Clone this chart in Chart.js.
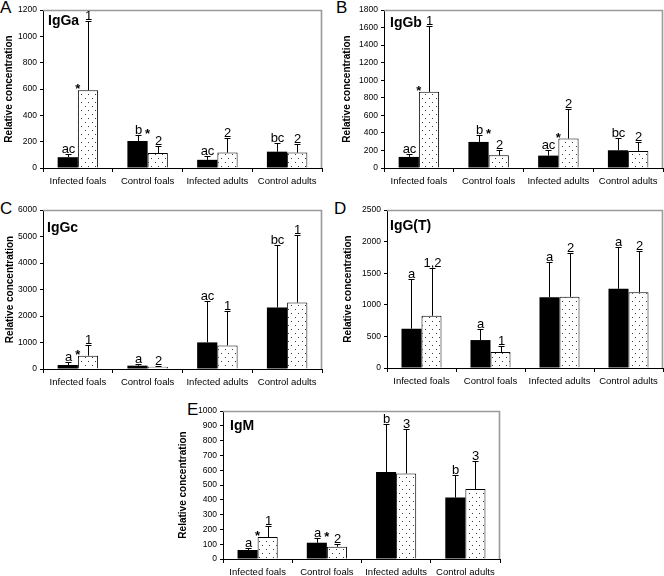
<!DOCTYPE html>
<html><head><meta charset="utf-8">
<script src="https://cdn.jsdelivr.net/npm/chart.js@4.4.0/dist/chart.umd.min.js"></script>
<style>
html,body{margin:0;padding:0;background:#fff}
body{width:664px;height:576px;position:relative;overflow:hidden;font-family:"Liberation Sans",Arial,sans-serif}
canvas{position:absolute}
.letter{position:absolute;font-size:17px;line-height:1;color:#000;font-family:"Liberation Sans",Arial,sans-serif}
</style></head><body>
<div class="letter" style="left:0px;top:-1px">A</div>
<div class="letter" style="left:336px;top:-1px">B</div>
<div class="letter" style="left:0px;top:200px">C</div>
<div class="letter" style="left:334px;top:200px">D</div>
<div class="letter" style="left:187px;top:401px">E</div>
<canvas id="cA" width="330" height="190" style="left:0px;top:0px"></canvas>
<canvas id="cB" width="334" height="190" style="left:330px;top:0px"></canvas>
<canvas id="cC" width="330" height="195" style="left:0px;top:195px"></canvas>
<canvas id="cD" width="334" height="195" style="left:330px;top:195px"></canvas>
<canvas id="cE" width="345" height="181" style="left:160px;top:395px"></canvas>
<script>
// ---- data ----
const categories = ['Infected foals', 'Control foals', 'Infected adults', 'Control adults'];
const yTitle = 'Relative concentration';

// IgGa
const igGaBlack = [82, 205, 62, 124];
const igGaBlackSD = [28, 44, 30, 69];
const igGaDotted = [590, 114, 117, 117];
const igGaDottedSD = [525, 51, 111, 68];
const igGaBlackLabels = ['ac', 'b', 'ac', 'bc'];
const igGaDottedLabels = ['1', '2', '2', '2'];
const igGaStars = [true, true, false, false];

// IgGb
const igGbBlack = [126, 297, 141, 202];
const igGbBlackSD = [38, 76, 68, 140];
const igGbDotted = [868, 145, 335, 194];
const igGbDottedSD = [749, 64, 342, 103];
const igGbBlackLabels = ['ac', 'b', 'ac', 'bc'];
const igGbDottedLabels = ['1', '2', '2', '2'];
const igGbStars = [true, true, true, false];

// IgGc
const igGcBlack = [151, 126, 1004, 2322];
const igGcBlackSD = [100, 75, 1557, 2347];
const igGcDotted = [502, 88, 891, 2510];
const igGcDottedSD = [389, 38, 1280, 2536];
const igGcBlackLabels = ['a', 'a', 'ac', 'bc'];
const igGcDottedLabels = ['1', '2', '1', '1'];
const igGcStars = [true, false, false, false];

// IgG(T)
const igGTBlack = [621, 442, 1121, 1253];
const igGTBlackSD = [784, 174, 563, 668];
const igGTDotted = [826, 253, 1126, 1200];
const igGTDottedSD = [753, 100, 690, 658];
const igGTBlackLabels = ['a', 'a', 'a', 'a'];
const igGTDottedLabels = ['1,2', '1', '2', '2'];
const igGTStars = [false, false, false, false];

// IgM
const igMBlack = [61, 110, 587, 415];
const igMBlackSD = [13, 31, 328, 150];
const igMDotted = [148, 83, 578, 473];
const igMDottedSD = [78, 18, 301, 191];
const igMBlackLabels = ['a', 'a', 'b', 'b'];
const igMDottedLabels = ['1', '2', '3', '3'];
const igMStars = [true, true, false, false];

// ---- drawing ----
const FONT = '"Liberation Sans", Arial, sans-serif';
Chart.defaults.font.family = FONT;
Chart.defaults.color = '#000';

function makePattern(ctx) {
  const c = document.createElement('canvas');
  c.width = 7; c.height = 8;
  const g = c.getContext('2d');
  g.fillStyle = '#fff'; g.fillRect(0, 0, 7, 8);
  g.fillStyle = '#3a3a3a';
  g.fillRect(1, 2, 1, 1);
  g.fillRect(4, 6, 1, 1);
  return ctx.createPattern(c, 'repeat');
}

function panel(cfg) {
  const canvas = document.getElementById(cfg.id);
  const ctx = canvas.getContext('2d');
  const pattern = makePattern(ctx);
  const annot = {
    id: 'annot_' + cfg.id,
    afterDraw(chart) {
      const c = chart.ctx;
      const a = chart.chartArea;
      const ys = chart.scales.y;
      c.save();
      // gray frame top & right
      c.strokeStyle = '#9a9a9a';
      c.lineWidth = 1.6;
      c.beginPath();
      c.moveTo(a.left, a.top + 0.5);
      c.lineTo(a.right - 0.5, a.top + 0.5);
      c.lineTo(a.right - 0.5, a.bottom);
      c.stroke();
      // error bars + labels
      const sets = [[cfg.black, cfg.blackSD, cfg.blackLabels], [cfg.dotted, cfg.dottedSD, cfg.dottedLabels]];
      c.strokeStyle = '#000';
      c.lineWidth = 1;
      c.fillStyle = '#000';
      c.textAlign = 'center';
      c.textBaseline = 'alphabetic';
      c.font = '13px ' + FONT;
      sets.forEach((s, di) => {
        const meta = chart.getDatasetMeta(di);
        meta.data.forEach((bar, j) => {
          const x = Math.round(bar.x) + 0.5;
          const yTop = bar.y;
          const yErr = Math.round(ys.getPixelForValue(s[0][j] + s[1][j])) + 0.5;
          c.beginPath();
          c.moveTo(x, yTop);
          c.lineTo(x, yErr);
          c.moveTo(x - 3, yErr);
          c.lineTo(x + 3, yErr);
          c.stroke();
          c.fillText(s[2][j], x, yErr - 2);
        });
      });
      // asterisks
      c.font = 'bold 13px ' + FONT;
      const m0 = chart.getDatasetMeta(0), m1 = chart.getDatasetMeta(1);
      cfg.stars.forEach((st, j) => {
        if (!st) return;
        const xc = (m0.data[j].x + m1.data[j].x) / 2;
        const pDot = ys.getPixelForValue(cfg.dotted[j]);
        const pErr = ys.getPixelForValue(cfg.black[j] + cfg.blackSD[j]);
        c.fillText('*', xc, Math.min(pDot, pErr) + 3);
      });
      // panel title
      c.textAlign = 'left';
      c.font = 'bold 14px ' + FONT;
      c.fillText(cfg.title, a.left + cfg.tdx, a.top + cfg.tdy);
      c.restore();
    }
  };
  return new Chart(ctx, {
    type: 'bar',
    data: {
      labels: categories,
      datasets: [
        { data: cfg.black, backgroundColor: '#000', borderColor: '#000', borderWidth: 0,
          categoryPercentage: 0.58, barPercentage: 1 },
        { data: cfg.dotted, backgroundColor: pattern, borderColor: '#000', borderWidth: 1,
          categoryPercentage: 0.58, barPercentage: 1 }
      ]
    },
    options: {
      responsive: false,
      animation: false,
      devicePixelRatio: 1,
      layout: { padding: { left: 0, top: cfg.padTop, right: cfg.padRight, bottom: 0 } },
      plugins: { legend: { display: false }, tooltip: { enabled: false } },
      scales: {
        x: {
          grid: { display: true, drawOnChartArea: false, drawTicks: true, tickLength: 4, color: '#000', offset: true },
          border: { display: true, color: '#000', width: 1 },
          ticks: { color: '#000', font: { size: 9.5 }, padding: 4, maxRotation: 0, autoSkip: false },
          afterFit: s => { s.height = cfg.xH; }
        },
        y: {
          min: 0, max: cfg.max,
          grid: { display: true, drawOnChartArea: false, drawTicks: true, tickLength: 3, color: '#000' },
          border: { display: true, color: '#000', width: 1 },
          ticks: { stepSize: cfg.step, color: '#000', font: { size: 8.5 }, padding: 3, callback: v => String(v) },
          title: { display: true, text: yTitle, color: '#000', font: { size: 10, weight: 'bold' }, padding: { top: cfg.titlePad, bottom: 0 } },
          afterFit: s => { s.width = cfg.yW; }
        }
      }
    },
    plugins: [annot]
  });
}

panel({ id: 'cA', title: 'IgGa', black: igGaBlack, blackSD: igGaBlackSD, dotted: igGaDotted, dottedSD: igGaDottedSD,
  blackLabels: igGaBlackLabels, dottedLabels: igGaDottedLabels, stars: igGaStars,
  max: 1200, step: 200, padTop: 10, padRight: 8, yW: 43, xH: 22, titlePad: 3, tdx: 5, tdy: 15 });
panel({ id: 'cB', title: 'IgGb', black: igGbBlack, blackSD: igGbBlackSD, dotted: igGbDotted, dottedSD: igGbDottedSD,
  blackLabels: igGbBlackLabels, dottedLabels: igGbDottedLabels, stars: igGbStars,
  max: 1800, step: 200, padTop: 10, padRight: 1, yW: 54, xH: 22, titlePad: 11, tdx: 6, tdy: 17 });
panel({ id: 'cC', title: 'IgGc', black: igGcBlack, blackSD: igGcBlackSD, dotted: igGcDotted, dottedSD: igGcDottedSD,
  blackLabels: igGcBlackLabels, dottedLabels: igGcDottedLabels, stars: igGcStars,
  max: 6000, step: 1000, padTop: 15, padRight: 8, yW: 43, xH: 21, titlePad: 4, tdx: 4, tdy: 22 });
panel({ id: 'cD', title: 'IgG(T)', black: igGTBlack, blackSD: igGTBlackSD, dotted: igGTDotted, dottedSD: igGTDottedSD,
  blackLabels: igGTBlackLabels, dottedLabels: igGTDottedLabels, stars: igGTStars,
  max: 2500, step: 500, padTop: 15, padRight: 1, yW: 57, xH: 22, titlePad: 12, tdx: 3, tdy: 20 });
panel({ id: 'cE', title: 'IgM', black: igMBlack, blackSD: igMBlackSD, dotted: igMDotted, dottedSD: igMDottedSD,
  blackLabels: igMBlackLabels, dottedLabels: igMDottedLabels, stars: igMStars,
  max: 1000, step: 100, padTop: 16, padRight: 5, yW: 63, xH: 17, titlePad: 17, tdx: 7, tdy: 19 });
</script>
</body></html>
